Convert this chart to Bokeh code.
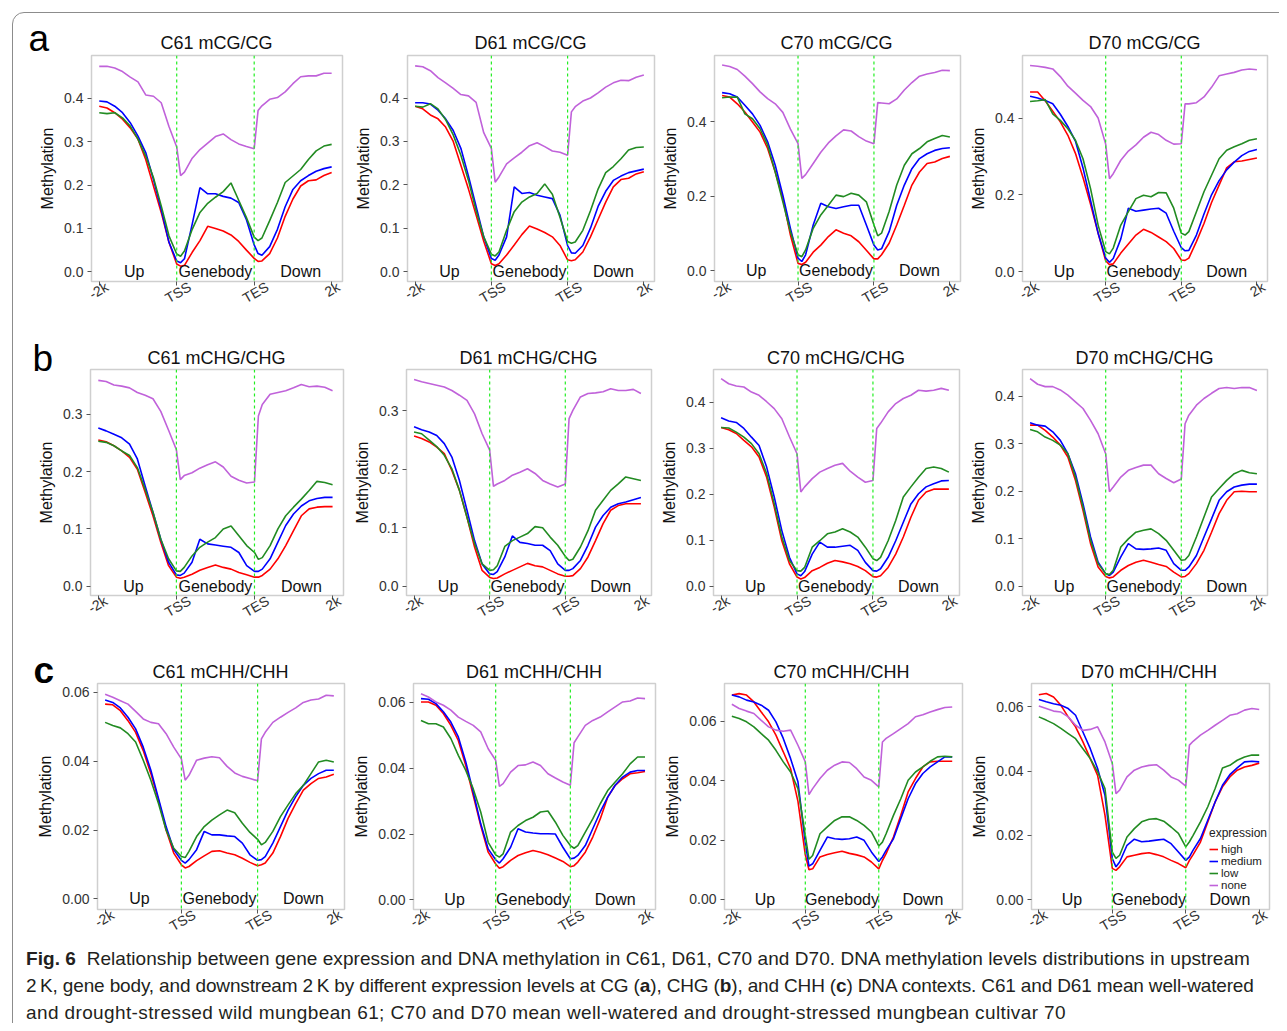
import math
from bokeh.plotting import figure
from bokeh.layouts import column, row
from bokeh.models import (Range1d, FixedTicker, NumeralTickFormatter, Span, LinearAxis,
                          Legend, LegendItem, Div)
from bokeh.embed import file_html
from bokeh.resources import INLINE
from bokeh.core.properties import value

FONT = "Liberation Sans"

# ---------------- data ----------------
# bins: -2k..TSS = 0..20, gene body TSS..TES = 20..40, TES..2k = 40..60
x_bins = [0, 2, 4, 6, 8, 10, 12, 14, 16, 18, 20, 21, 22, 24, 26, 28, 30, 32, 34, 36, 38,
          40, 41, 42, 44, 46, 48, 50, 52, 54, 56, 58, 60]
x_tick_pos = [0, 20, 40, 60]
x_tick_labels = ["-2k", "TSS", "TES", "2k"]
region_names = ["Up", "Genebody", "Down"]
region_pos = [9, 30, 52]
boundary_pos = [20, 40]
series_names = ["high", "medium", "low", "none"]
series_colors = ["#FF0000", "#0000FF", "#228B22", "#C062DA"]

c61_cg_high = [0.382,0.378,0.367,0.352,0.332,0.306,0.259,0.198,0.137,0.068,0.018,0.013,0.015,0.045,0.072,0.105,0.100,0.094,0.085,0.070,0.050,0.031,0.024,0.025,0.042,0.078,0.128,0.168,0.198,0.210,0.212,0.222,0.229]
c61_cg_medium = [0.394,0.392,0.382,0.367,0.344,0.313,0.275,0.213,0.144,0.068,0.025,0.021,0.030,0.110,0.194,0.180,0.180,0.174,0.170,0.160,0.120,0.062,0.042,0.038,0.058,0.098,0.150,0.190,0.210,0.222,0.232,0.238,0.242]
c61_cg_low = [0.367,0.365,0.367,0.355,0.336,0.306,0.267,0.217,0.152,0.083,0.041,0.036,0.048,0.098,0.137,0.158,0.172,0.185,0.205,0.165,0.125,0.080,0.072,0.078,0.118,0.160,0.206,0.221,0.236,0.259,0.279,0.290,0.294]
c61_cg_none = [0.474,0.474,0.470,0.462,0.449,0.438,0.408,0.405,0.390,0.335,0.288,0.222,0.230,0.262,0.282,0.297,0.312,0.318,0.305,0.295,0.289,0.284,0.372,0.383,0.398,0.402,0.415,0.434,0.450,0.452,0.452,0.458,0.458]

d61_cg_high = [0.381,0.375,0.361,0.352,0.333,0.300,0.245,0.190,0.130,0.070,0.018,0.014,0.018,0.038,0.061,0.085,0.105,0.098,0.090,0.080,0.060,0.027,0.025,0.027,0.045,0.080,0.120,0.160,0.195,0.212,0.215,0.225,0.230]
d61_cg_medium = [0.389,0.389,0.386,0.372,0.352,0.325,0.284,0.220,0.150,0.080,0.030,0.026,0.038,0.080,0.195,0.180,0.182,0.176,0.172,0.168,0.130,0.060,0.043,0.042,0.060,0.100,0.150,0.185,0.210,0.220,0.228,0.232,0.236]
d61_cg_low = [0.381,0.379,0.387,0.375,0.350,0.315,0.268,0.210,0.140,0.080,0.040,0.036,0.045,0.095,0.138,0.160,0.172,0.180,0.202,0.178,0.125,0.069,0.065,0.068,0.095,0.140,0.190,0.228,0.242,0.260,0.280,0.286,0.287]
d61_cg_none = [0.474,0.472,0.463,0.447,0.435,0.422,0.408,0.405,0.390,0.320,0.284,0.206,0.218,0.248,0.262,0.275,0.290,0.297,0.288,0.278,0.275,0.268,0.368,0.380,0.393,0.400,0.412,0.425,0.435,0.441,0.440,0.448,0.453]

c70_cg_high = [0.470,0.466,0.448,0.426,0.399,0.372,0.328,0.265,0.194,0.096,0.020,0.017,0.023,0.050,0.069,0.092,0.110,0.101,0.094,0.078,0.055,0.032,0.032,0.043,0.074,0.123,0.176,0.230,0.265,0.288,0.292,0.301,0.307]
c70_cg_medium = [0.478,0.475,0.466,0.444,0.421,0.390,0.346,0.283,0.203,0.114,0.034,0.025,0.043,0.123,0.181,0.172,0.167,0.172,0.176,0.176,0.123,0.069,0.056,0.059,0.105,0.176,0.230,0.274,0.301,0.314,0.323,0.328,0.330]
c70_cg_low = [0.464,0.466,0.466,0.421,0.408,0.381,0.337,0.265,0.185,0.105,0.043,0.038,0.056,0.114,0.150,0.176,0.203,0.199,0.208,0.203,0.185,0.123,0.094,0.101,0.159,0.230,0.283,0.314,0.328,0.346,0.355,0.363,0.359]
c70_cg_none = [0.552,0.548,0.540,0.522,0.502,0.480,0.462,0.448,0.425,0.380,0.341,0.248,0.258,0.288,0.318,0.343,0.362,0.378,0.375,0.360,0.348,0.341,0.451,0.450,0.448,0.461,0.485,0.505,0.522,0.528,0.532,0.538,0.537]

d70_cg_high = [0.468,0.468,0.445,0.418,0.390,0.355,0.308,0.245,0.175,0.100,0.028,0.018,0.020,0.048,0.072,0.095,0.110,0.102,0.090,0.078,0.060,0.030,0.029,0.035,0.078,0.125,0.180,0.225,0.270,0.286,0.288,0.292,0.296]
d70_cg_medium = [0.457,0.452,0.446,0.437,0.410,0.378,0.340,0.270,0.185,0.100,0.035,0.024,0.034,0.085,0.165,0.157,0.160,0.163,0.165,0.152,0.105,0.062,0.054,0.055,0.095,0.150,0.200,0.237,0.265,0.285,0.302,0.313,0.318]
d70_cg_low = [0.443,0.445,0.448,0.411,0.394,0.372,0.342,0.294,0.216,0.121,0.052,0.046,0.061,0.121,0.156,0.190,0.199,0.195,0.206,0.205,0.165,0.100,0.095,0.104,0.156,0.208,0.251,0.294,0.316,0.325,0.333,0.342,0.346]
d70_cg_none = [0.537,0.535,0.532,0.528,0.508,0.483,0.465,0.446,0.430,0.400,0.332,0.242,0.255,0.290,0.314,0.330,0.350,0.363,0.357,0.342,0.332,0.333,0.437,0.437,0.440,0.455,0.480,0.510,0.515,0.519,0.525,0.528,0.526]

c61_chg_high = [0.255,0.252,0.245,0.236,0.225,0.204,0.164,0.123,0.077,0.036,0.016,0.014,0.016,0.021,0.028,0.033,0.037,0.033,0.030,0.024,0.020,0.016,0.016,0.019,0.030,0.048,0.071,0.097,0.123,0.135,0.138,0.139,0.139]
c61_chg_medium = [0.276,0.271,0.265,0.259,0.248,0.222,0.175,0.129,0.082,0.042,0.020,0.019,0.023,0.042,0.082,0.074,0.072,0.070,0.068,0.059,0.036,0.026,0.026,0.030,0.048,0.077,0.106,0.126,0.140,0.149,0.153,0.155,0.155]
c61_chg_low = [0.253,0.251,0.245,0.236,0.228,0.207,0.169,0.129,0.082,0.048,0.027,0.026,0.033,0.053,0.068,0.077,0.085,0.100,0.105,0.088,0.071,0.059,0.047,0.050,0.071,0.100,0.123,0.138,0.152,0.167,0.183,0.181,0.177]
c61_chg_none = [0.359,0.357,0.351,0.349,0.346,0.338,0.333,0.327,0.305,0.272,0.238,0.186,0.193,0.198,0.206,0.212,0.217,0.208,0.192,0.185,0.180,0.182,0.297,0.317,0.335,0.338,0.341,0.346,0.352,0.348,0.349,0.347,0.341]

d61_chg_high = [0.257,0.253,0.247,0.238,0.227,0.198,0.164,0.118,0.067,0.027,0.015,0.013,0.014,0.021,0.027,0.033,0.039,0.035,0.033,0.027,0.021,0.017,0.017,0.018,0.030,0.050,0.078,0.107,0.130,0.138,0.141,0.141,0.141]
d61_chg_medium = [0.273,0.268,0.264,0.258,0.244,0.221,0.181,0.130,0.078,0.038,0.021,0.020,0.025,0.050,0.086,0.075,0.073,0.070,0.070,0.061,0.038,0.027,0.027,0.030,0.044,0.070,0.101,0.121,0.135,0.141,0.144,0.148,0.152]
d61_chg_low = [0.264,0.261,0.250,0.239,0.224,0.201,0.164,0.118,0.073,0.038,0.027,0.028,0.035,0.068,0.078,0.084,0.090,0.102,0.100,0.084,0.070,0.051,0.044,0.046,0.067,0.095,0.130,0.147,0.164,0.175,0.187,0.184,0.181]
d61_chg_none = [0.354,0.350,0.347,0.344,0.341,0.335,0.327,0.318,0.295,0.261,0.233,0.171,0.175,0.181,0.190,0.195,0.201,0.193,0.181,0.175,0.170,0.175,0.287,0.301,0.324,0.330,0.331,0.333,0.338,0.335,0.335,0.337,0.330]

c70_chg_high = [0.345,0.340,0.332,0.317,0.303,0.281,0.237,0.172,0.099,0.049,0.020,0.016,0.019,0.034,0.041,0.050,0.056,0.053,0.049,0.043,0.034,0.021,0.020,0.023,0.041,0.070,0.107,0.150,0.187,0.205,0.211,0.211,0.211]
c70_chg_medium = [0.366,0.359,0.356,0.343,0.324,0.306,0.259,0.194,0.121,0.063,0.027,0.023,0.032,0.070,0.096,0.085,0.085,0.087,0.089,0.078,0.052,0.034,0.033,0.038,0.063,0.099,0.139,0.179,0.201,0.216,0.223,0.229,0.230]
c70_chg_low = [0.345,0.344,0.335,0.324,0.310,0.288,0.245,0.179,0.107,0.056,0.034,0.033,0.041,0.085,0.099,0.114,0.118,0.125,0.118,0.107,0.085,0.060,0.056,0.063,0.099,0.143,0.194,0.216,0.237,0.256,0.259,0.256,0.248]
c70_chg_none = [0.451,0.440,0.435,0.433,0.422,0.415,0.401,0.386,0.364,0.325,0.288,0.205,0.216,0.234,0.248,0.256,0.263,0.267,0.250,0.237,0.226,0.230,0.343,0.354,0.379,0.397,0.408,0.415,0.426,0.424,0.426,0.430,0.426]

d70_chg_high = [0.339,0.339,0.328,0.314,0.297,0.272,0.223,0.160,0.090,0.041,0.021,0.018,0.020,0.034,0.044,0.051,0.055,0.051,0.046,0.042,0.030,0.020,0.021,0.027,0.048,0.076,0.114,0.153,0.181,0.199,0.200,0.199,0.199]
d70_chg_medium = [0.344,0.339,0.337,0.325,0.307,0.279,0.237,0.174,0.104,0.051,0.027,0.023,0.030,0.062,0.090,0.079,0.078,0.079,0.081,0.076,0.048,0.034,0.034,0.041,0.065,0.104,0.142,0.181,0.199,0.209,0.213,0.215,0.215]
d70_chg_low = [0.330,0.325,0.314,0.307,0.297,0.279,0.230,0.167,0.097,0.048,0.027,0.025,0.034,0.083,0.100,0.114,0.118,0.121,0.111,0.097,0.076,0.055,0.056,0.065,0.104,0.146,0.188,0.206,0.223,0.237,0.244,0.239,0.237]
d70_chg_none = [0.437,0.425,0.420,0.420,0.413,0.402,0.388,0.374,0.349,0.321,0.279,0.199,0.209,0.230,0.244,0.250,0.255,0.255,0.237,0.227,0.218,0.226,0.342,0.360,0.381,0.395,0.406,0.416,0.418,0.416,0.418,0.418,0.412]

c61_chh_high = [0.0566,0.0564,0.0547,0.0518,0.0484,0.0431,0.0364,0.0287,0.0200,0.0133,0.0099,0.0090,0.0094,0.0111,0.0125,0.0138,0.0140,0.0133,0.0128,0.0118,0.0106,0.0096,0.0099,0.0104,0.0133,0.0181,0.0234,0.0277,0.0316,0.0335,0.0350,0.0354,0.0362]
c61_chh_medium = [0.0578,0.0571,0.0555,0.0528,0.0494,0.0441,0.0374,0.0292,0.0210,0.0143,0.0112,0.0104,0.0114,0.0143,0.0196,0.0186,0.0186,0.0183,0.0181,0.0162,0.0128,0.0112,0.0114,0.0123,0.0162,0.0210,0.0258,0.0297,0.0330,0.0350,0.0364,0.0374,0.0374]
c61_chh_low = [0.0513,0.0504,0.0497,0.0480,0.0456,0.0403,0.0345,0.0277,0.0200,0.0147,0.0123,0.0120,0.0138,0.0181,0.0210,0.0229,0.0244,0.0258,0.0250,0.0220,0.0193,0.0173,0.0157,0.0164,0.0196,0.0239,0.0273,0.0306,0.0330,0.0364,0.0398,0.0403,0.0398]
c61_chh_none = [0.0595,0.0586,0.0576,0.0566,0.0545,0.0523,0.0513,0.0509,0.0480,0.0441,0.0407,0.0345,0.0359,0.0403,0.0409,0.0413,0.0410,0.0385,0.0366,0.0356,0.0350,0.0343,0.0465,0.0484,0.0513,0.0528,0.0542,0.0555,0.0571,0.0578,0.0581,0.0592,0.0590]

d61_chh_high = [0.0601,0.0601,0.0591,0.0566,0.0530,0.0484,0.0408,0.0317,0.0226,0.0145,0.0109,0.0096,0.0101,0.0120,0.0135,0.0143,0.0150,0.0145,0.0137,0.0127,0.0117,0.0101,0.0104,0.0115,0.0145,0.0191,0.0246,0.0312,0.0348,0.0368,0.0383,0.0386,0.0390]
d61_chh_medium = [0.0611,0.0609,0.0596,0.0571,0.0540,0.0495,0.0419,0.0327,0.0231,0.0155,0.0122,0.0112,0.0125,0.0160,0.0216,0.0206,0.0203,0.0201,0.0201,0.0200,0.0160,0.0125,0.0127,0.0135,0.0165,0.0216,0.0267,0.0312,0.0348,0.0373,0.0388,0.0393,0.0393]
d61_chh_low = [0.0545,0.0535,0.0535,0.0525,0.0490,0.0439,0.0393,0.0337,0.0267,0.0175,0.0137,0.0130,0.0140,0.0206,0.0226,0.0241,0.0251,0.0267,0.0270,0.0236,0.0196,0.0165,0.0157,0.0165,0.0206,0.0246,0.0292,0.0332,0.0358,0.0383,0.0413,0.0434,0.0434]
d61_chh_none = [0.0626,0.0616,0.0601,0.0591,0.0576,0.0555,0.0542,0.0530,0.0510,0.0459,0.0424,0.0345,0.0353,0.0388,0.0408,0.0410,0.0419,0.0408,0.0383,0.0370,0.0358,0.0348,0.0477,0.0495,0.0530,0.0545,0.0555,0.0571,0.0586,0.0601,0.0604,0.0613,0.0611]

c70_chh_high = [0.0688,0.0693,0.0688,0.0665,0.0631,0.0598,0.0553,0.0497,0.0440,0.0330,0.0150,0.0100,0.0103,0.0143,0.0151,0.0157,0.0162,0.0155,0.0150,0.0143,0.0126,0.0103,0.0131,0.0154,0.0210,0.0283,0.0362,0.0407,0.0446,0.0463,0.0465,0.0465,0.0465]
c70_chh_medium = [0.0688,0.0682,0.0671,0.0665,0.0654,0.0637,0.0598,0.0542,0.0474,0.0396,0.0190,0.0112,0.0120,0.0165,0.0210,0.0204,0.0202,0.0204,0.0210,0.0199,0.0160,0.0128,0.0143,0.0165,0.0204,0.0272,0.0339,0.0390,0.0424,0.0446,0.0463,0.0480,0.0480]
c70_chh_low = [0.0617,0.0609,0.0598,0.0581,0.0558,0.0536,0.0502,0.0463,0.0429,0.0373,0.0216,0.0135,0.0148,0.0221,0.0244,0.0266,0.0278,0.0278,0.0266,0.0249,0.0227,0.0180,0.0193,0.0221,0.0283,0.0339,0.0401,0.0429,0.0446,0.0465,0.0480,0.0482,0.0480]
c70_chh_none = [0.0657,0.0643,0.0634,0.0626,0.0603,0.0581,0.0570,0.0566,0.0570,0.0519,0.0463,0.0353,0.0373,0.0407,0.0435,0.0452,0.0463,0.0461,0.0440,0.0412,0.0401,0.0379,0.0530,0.0542,0.0558,0.0575,0.0592,0.0615,0.0622,0.0631,0.0639,0.0646,0.0648]

d70_chh_high = [0.0638,0.0642,0.0631,0.0605,0.0569,0.0538,0.0491,0.0439,0.0387,0.0263,0.0097,0.0091,0.0102,0.0133,0.0138,0.0143,0.0146,0.0140,0.0133,0.0122,0.0112,0.0099,0.0122,0.0140,0.0179,0.0242,0.0304,0.0351,0.0382,0.0403,0.0413,0.0418,0.0425]
d70_chh_medium = [0.0623,0.0616,0.0610,0.0605,0.0595,0.0574,0.0522,0.0470,0.0408,0.0325,0.0128,0.0102,0.0117,0.0169,0.0188,0.0180,0.0182,0.0185,0.0188,0.0174,0.0148,0.0122,0.0133,0.0154,0.0190,0.0247,0.0304,0.0356,0.0389,0.0410,0.0429,0.0431,0.0429]
d70_chh_low = [0.0569,0.0559,0.0548,0.0533,0.0517,0.0501,0.0470,0.0439,0.0398,0.0346,0.0148,0.0128,0.0138,0.0195,0.0221,0.0242,0.0250,0.0252,0.0244,0.0226,0.0206,0.0164,0.0180,0.0200,0.0242,0.0289,0.0346,0.0410,0.0418,0.0434,0.0444,0.0450,0.0450]
d70_chh_none = [0.0603,0.0595,0.0587,0.0584,0.0569,0.0543,0.0527,0.0530,0.0538,0.0491,0.0424,0.0330,0.0341,0.0382,0.0403,0.0413,0.0418,0.0420,0.0403,0.0382,0.0372,0.0353,0.0481,0.0493,0.0512,0.0527,0.0543,0.0558,0.0574,0.0579,0.0590,0.0595,0.0592]

titles = ["C61 mCG/CG", "D61 mCG/CG", "C70 mCG/CG", "D70 mCG/CG",
          "C61 mCHG/CHG", "D61 mCHG/CHG", "C70 mCHG/CHG", "D70 mCHG/CHG",
          "C61 mCHH/CHH", "D61 mCHH/CHH", "C70 mCHH/CHH", "D70 mCHH/CHH"]
panel_series = [
    [c61_cg_high, c61_cg_medium, c61_cg_low, c61_cg_none],
    [d61_cg_high, d61_cg_medium, d61_cg_low, d61_cg_none],
    [c70_cg_high, c70_cg_medium, c70_cg_low, c70_cg_none],
    [d70_cg_high, d70_cg_medium, d70_cg_low, d70_cg_none],
    [c61_chg_high, c61_chg_medium, c61_chg_low, c61_chg_none],
    [d61_chg_high, d61_chg_medium, d61_chg_low, d61_chg_none],
    [c70_chg_high, c70_chg_medium, c70_chg_low, c70_chg_none],
    [d70_chg_high, d70_chg_medium, d70_chg_low, d70_chg_none],
    [c61_chh_high, c61_chh_medium, c61_chh_low, c61_chh_none],
    [d61_chh_high, d61_chh_medium, d61_chh_low, d61_chh_none],
    [c70_chh_high, c70_chh_medium, c70_chh_low, c70_chh_none],
    [d70_chh_high, d70_chh_medium, d70_chh_low, d70_chh_none],
]
y_ticks = [[0, 0.1, 0.2, 0.3, 0.4], [0, 0.1, 0.2, 0.3, 0.4], [0, 0.2, 0.4], [0, 0.2, 0.4],
           [0, 0.1, 0.2, 0.3], [0, 0.1, 0.2, 0.3], [0, 0.1, 0.2, 0.3, 0.4], [0, 0.1, 0.2, 0.3, 0.4],
           [0, 0.02, 0.04, 0.06], [0, 0.02, 0.04, 0.06], [0, 0.02, 0.04, 0.06], [0, 0.02, 0.04, 0.06]]
y_formats = ["0.0"] * 8 + ["0.00"] * 4
panel_tags = ["a", "b", "c"]

caption_lines = [
    "<b>Fig. 6</b>&nbsp;&nbsp;Relationship between gene expression and DNA methylation in C61, D61, C70 and D70. DNA methylation levels distributions in upstream",
    "2&#8201;K, gene body, and downstream 2&#8201;K by different expression levels at CG (<b>a</b>), CHG (<b>b</b>), and CHH (<b>c</b>) DNA contexts. C61 and D61 mean well-watered",
    "and drought-stressed wild mungbean 61; C70 and D70 mean well-watered and drought-stressed mungbean cultivar 70",
]

# ---------------- layout (pixels) ----------------
y_ranges = [(-0.0224, 0.499), (-0.023, 0.498), (-0.0286, 0.5775), (-0.026, 0.563),
            (-0.016, 0.378), (-0.016, 0.371), (-0.020, 0.471), (-0.019, 0.456),
            (-0.0031, 0.0626), (-0.0029, 0.0657), (-0.0034, 0.0727), (-0.0031, 0.0673)]
X_RANGE = (-2.0, 62.8)
# the rotated labels hang from their right end: nudge each anchor so the label centres on its tick
LABEL_NUDGE = [2.0, 3.4, 3.4, 1.8]
PAGE_W = 1279
row_specs = [
    dict(strip_h=53, height=272, top=2, bottom=44, widths=[348, 311, 307, 313],
         lefts=[91, 59, 54, 56], rights=[6, 5, 6, 12],
         centers=[216.5, 530.5, 836.5, 1144.5], title_top=34.1,
         tag_left=28.6, tag_top=20.4, tag_bold=False),
    dict(strip_h=42, height=272, top=2, bottom=44, widths=[349, 308, 308, 314],
         lefts=[90, 57, 56, 57], rights=[6, 6, 6, 12],
         centers=[216.5, 528.5, 836, 1144.5], title_top=23.8,
         tag_left=32.6, tag_top=15.4, tag_bold=False),
    dict(strip_h=42, height=264, top=2, bottom=36, widths=[350, 311, 307, 311],
         lefts=[97, 63, 60, 61], rights=[6, 6, 6, 10],
         centers=[220.5, 534, 841.5, 1149], title_top=24.1,
         tag_left=33.5, tag_top=13, tag_bold=True),
]
FAM = "font-family:'Liberation Sans',Arial,sans-serif;"


def strip_div(ri, spec):
    parts = [f'<div style="position:relative;width:{PAGE_W}px;height:{spec["strip_h"]}px;{FAM}color:#111;">']
    if ri == 0:
        # outer rounded frame of the figure
        parts.append('<div style="position:absolute;left:0;top:0;width:1279px;height:1023px;'
                     'overflow:hidden;pointer-events:none;">'
                     '<div style="position:absolute;left:12px;top:12px;width:1320px;height:1100px;'
                     'border:1px solid #8c8c8c;border-radius:12px;"></div></div>')
    weight = "bold" if spec["tag_bold"] else "normal"
    parts.append(f'<span style="position:absolute;left:{spec["tag_left"]}px;top:{spec["tag_top"]}px;'
                 f'font-size:37px;line-height:37px;font-weight:{weight};color:#000;">{panel_tags[ri]}</span>')
    for j in range(4):
        parts.append(f'<span style="position:absolute;left:{spec["centers"][j]}px;top:{spec["title_top"]}px;'
                     f'transform:translateX(-50%);font-size:18px;line-height:18px;white-space:nowrap;">'
                     f'{titles[ri * 4 + j]}</span>')
    parts.append("</div>")
    return Div(text="".join(parts), width=PAGE_W, height=spec["strip_h"], margin=0,
               styles={"overflow": "visible"})


def make_panel(i, spec, j):
    yr = y_ranges[i]
    p = figure(width=spec["widths"][j], height=spec["height"], title=None,
               x_range=Range1d(*X_RANGE), y_range=Range1d(*yr),
               output_backend="svg", toolbar_location=None,
               min_border_left=spec["lefts"][j], min_border_right=spec["rights"][j],
               min_border_top=spec["top"], min_border_bottom=spec["bottom"])
    p.xgrid.visible = False
    p.ygrid.visible = False
    p.outline_line_color = "#CFCFCF"
    p.outline_line_width = 1.5
    p.background_fill_color = "white"
    p.border_fill_color = None

    p.axis.axis_line_color = None
    p.axis.minor_tick_line_color = None
    p.axis.major_tick_in = 0
    p.axis.major_tick_out = 4
    p.axis.major_tick_line_color = "#555555"
    p.axis.major_label_text_font = FONT
    p.axis.major_label_text_font_size = "14px"
    p.axis.major_label_text_color = "#333333"

    # x axis: tick marks only; the labels come from a companion label axis
    p.xaxis.ticker = FixedTicker(ticks=x_tick_pos)
    p.xaxis.major_label_overrides = {t: "" for t in x_tick_pos}
    p.xaxis.major_label_text_font_size = "0px"
    p.xaxis.major_label_standoff = 0

    anchors = [t + d for t, d in zip(x_tick_pos, LABEL_NUDGE)]
    lab_axis = LinearAxis(ticker=FixedTicker(ticks=anchors),
                          major_label_overrides=dict(zip(anchors, x_tick_labels)),
                          major_label_orientation=math.radians(30), major_label_standoff=0,
                          major_tick_in=0, major_tick_out=0, minor_tick_in=0, minor_tick_out=0,
                          axis_line_color=None, major_tick_line_color=None,
                          minor_tick_line_color=None, major_label_text_font=FONT,
                          major_label_text_font_size="14px", major_label_text_color="#333333")
    p.add_layout(lab_axis, "below")

    p.yaxis.ticker = FixedTicker(ticks=y_ticks[i])
    p.yaxis.formatter = NumeralTickFormatter(format=y_formats[i])
    p.yaxis.major_label_standoff = 4
    p.yaxis.axis_label = "Methylation"
    p.yaxis.axis_label_text_font = FONT
    p.yaxis.axis_label_text_font_size = "16px"
    p.yaxis.axis_label_text_font_style = "normal"
    p.yaxis.axis_label_text_color = "#111111"
    p.yaxis.axis_label_standoff = 5

    renderers = []
    for vals, color in zip(panel_series[i], series_colors):
        r = p.line(x_bins, vals, line_color=color, line_width=1.6)
        renderers.append(r)

    for b in boundary_pos:
        p.add_layout(Span(location=b, dimension="height", line_color="#22EE22",
                          line_dash="3 3", line_width=1.2))

    p.text(x=region_pos, y=[0, 0, 0], text=region_names, text_font=value(FONT),
           text_font_size="16px", text_align="center", text_baseline="middle",
           text_color="#111111")
    return p, renderers


blocks = []
for ri, spec in enumerate(row_specs):
    figs = []
    for j in range(4):
        i = ri * 4 + j
        p, rends = make_panel(i, spec, j)
        if i == 11:
            legend = Legend(items=[LegendItem(label=n, renderers=[r]) for n, r in zip(series_names, rends)],
                            location=(178, 18), title="expression")
            legend.title_text_font = FONT
            legend.title_text_font_size = "12px"
            legend.title_text_font_style = "normal"
            legend.title_text_color = "#222222"
            legend.title_standoff = 3
            legend.label_text_font = FONT
            legend.label_text_font_size = "11.5px"
            legend.label_text_color = "#222222"
            legend.glyph_width = 9
            legend.glyph_height = 12
            legend.label_height = 12
            legend.label_standoff = 3
            legend.spacing = 0
            legend.padding = 0
            legend.margin = 0
            legend.background_fill_alpha = 0
            legend.border_line_color = None
            p.add_layout(legend)
        figs.append(p)
    blocks.append(strip_div(ri, spec))
    blocks.append(row(*figs, spacing=0))

line_spacing = [0.06, -0.15, 0.38]
cap_inner = "".join(f'<div style="letter-spacing:{ls}px;">{t}</div>' for t, ls in zip(caption_lines, line_spacing))
caption_html = (f'<div style="{FAM}font-size:19px;line-height:27px;color:#231f20;'
                'padding:0 0 0 26px;white-space:nowrap;">' + cap_inner + "</div>")
caption = Div(text=caption_html, width=PAGE_W, height=78, margin=0)
blocks.append(caption)

layout = column(*blocks, spacing=0)

with open("out.html", "w") as f:
    f.write(file_html(layout, INLINE))
